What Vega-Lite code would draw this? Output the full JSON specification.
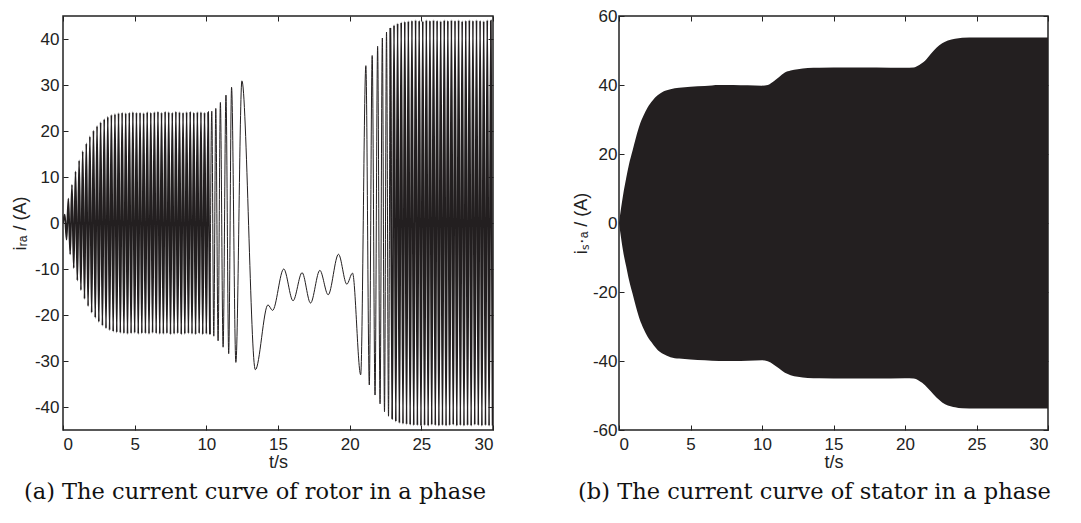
{
  "$schema": "https://vega.github.io/schema/vega-lite/v6.json",
  "background": "white",
  "padding": {"left": 10, "top": 6, "right": 0, "bottom": 0},
  "spacing": 76,
  "config": {
    "view": {"stroke": "#222", "strokeWidth": 1.5},
    "axis": {"labelFont": "Liberation Sans", "labelFontSize": 17, "labelColor": "#222", "titleFont": "Liberation Sans", "titleFontSize": 18, "titleFontWeight": "normal", "titleColor": "#222", "grid": false, "domain": false, "tickColor": "#222", "tickSize": -5, "tickWidth": 1, "labelPadding": 9},
    "title": {"font": "DejaVu Serif", "fontSize": 22.5, "fontWeight": "normal", "color": "#111"}
  },
  "datasets": {
    "rotor": [
      {"t":0,"i":0},{"t":0.125,"i":1.8},{"t":0.25,"i":-3.6},{"t":0.375,"i":5.3},{"t":0.5,"i":-6.8},{"t":0.625,"i":8.3},{"t":0.75,"i":-9.8},{"t":0.875,"i":11.2},{"t":1.0,"i":-12.5},{"t":1.125,"i":13.6},{"t":1.25,"i":-14.6},{"t":1.375,"i":15.6},{"t":1.5,"i":-16.5},{"t":1.625,"i":17.3},{"t":1.75,"i":-18.1},{"t":1.875,"i":18.8},{"t":2.0,"i":-19.5},{"t":2.125,"i":20.1},{"t":2.25,"i":-20.6},{"t":2.375,"i":21.1},{"t":2.5,"i":-21.5},{"t":2.625,"i":21.9},{"t":2.75,"i":-22.3},{"t":2.875,"i":22.6},{"t":3.0,"i":-22.9},{"t":3.125,"i":23.1},{"t":3.25,"i":-23.3},{"t":3.375,"i":23.5},{"t":3.5,"i":-23.6},{"t":3.625,"i":23.7},{"t":3.75,"i":-23.8},{"t":3.875,"i":23.9},{"t":4.0,"i":-23.9},{"t":4.125,"i":24.0},{"t":4.25,"i":-24.0},{"t":4.375,"i":23.9},{"t":4.5,"i":-24.1},{"t":4.625,"i":24.0},{"t":4.75,"i":-24.0},{"t":4.875,"i":24.1},{"t":5.0,"i":-23.9},{"t":5.125,"i":24.0},{"t":5.25,"i":-24.1},{"t":5.375,"i":24.0},{"t":5.5,"i":-24.0},{"t":5.625,"i":23.9},{"t":5.75,"i":-24.0},{"t":5.875,"i":24.1},{"t":6.0,"i":-24.1},{"t":6.125,"i":24.0},{"t":6.25,"i":-23.9},{"t":6.375,"i":24.1},{"t":6.5,"i":-24.0},{"t":6.625,"i":24.2},{"t":6.75,"i":-24.1},{"t":6.875,"i":24.0},{"t":7.0,"i":-24.1},{"t":7.125,"i":24.2},{"t":7.25,"i":-24.0},{"t":7.375,"i":24.1},{"t":7.5,"i":-24.2},{"t":7.625,"i":24.0},{"t":7.75,"i":-24.1},{"t":7.875,"i":24.2},{"t":8.0,"i":-24.0},{"t":8.125,"i":24.1},{"t":8.25,"i":-24.2},{"t":8.375,"i":24.0},{"t":8.5,"i":-24.1},{"t":8.625,"i":24.1},{"t":8.75,"i":-24.0},{"t":8.875,"i":24.2},{"t":9.0,"i":-24.1},{"t":9.125,"i":24.0},{"t":9.25,"i":-24.2},{"t":9.375,"i":24.1},{"t":9.5,"i":-24.0},{"t":9.625,"i":24.1},{"t":9.75,"i":-24.2},{"t":9.875,"i":24.0},{"t":10.0,"i":-24.1},{"t":10.125,"i":24.1},{"t":10.25,"i":-24.2},
      {"t":10.38,"i":24.3},{"t":10.52,"i":-24.6},{"t":10.66,"i":24.9},{"t":10.82,"i":-25.6},{"t":10.98,"i":26.2},{"t":11.17,"i":-27.0},{"t":11.37,"i":27.8},{"t":11.56,"i":-28.4},{"t":11.76,"i":29.5},{"t":12.06,"i":-30.3},{"t":12.48,"i":30.9},{"t":13.42,"i":-31.9},
      {"t":14.3,"i":-17.8},{"t":14.62,"i":-19.0},{"t":15.4,"i":-10.0},{"t":16.05,"i":-16.9},{"t":16.68,"i":-10.8},{"t":17.27,"i":-17.4},{"t":17.92,"i":-10.3},{"t":18.5,"i":-15.6},{"t":19.22,"i":-6.8},{"t":19.8,"i":-13.3},{"t":20.2,"i":-10.9},{"t":20.77,"i":-33.0},
      {"t":21.13,"i":34.2},{"t":21.37,"i":-35.2},{"t":21.57,"i":36.4},{"t":21.77,"i":-37.4},{"t":21.95,"i":38.4},{"t":22.12,"i":-39.3},{"t":22.28,"i":40.2},{"t":22.43,"i":-41.0},{"t":22.57,"i":41.5},{"t":22.71,"i":-42.0},{"t":22.84,"i":42.4},{"t":22.97,"i":-42.7},
      {"t":23.095,"i":43.0},{"t":23.22,"i":-43.2},{"t":23.345,"i":43.4},{"t":23.47,"i":-43.5},{"t":23.595,"i":43.6},{"t":23.72,"i":-43.7},{"t":23.845,"i":43.8},{"t":23.97,"i":-43.8},{"t":24.095,"i":43.9},{"t":24.22,"i":-43.9},{"t":24.345,"i":44.0},{"t":24.47,"i":-44.0},
      {"t":24.6,"i":44.1},{"t":24.725,"i":-44.0},{"t":24.85,"i":44.0},{"t":24.975,"i":-44.1},{"t":25.1,"i":43.9},{"t":25.225,"i":-44.0},{"t":25.35,"i":44.1},{"t":25.475,"i":-44.1},{"t":25.6,"i":44.0},{"t":25.725,"i":-43.9},{"t":25.85,"i":44.1},{"t":25.975,"i":-44.0},{"t":26.1,"i":44.0},{"t":26.225,"i":-44.1},{"t":26.35,"i":43.9},{"t":26.475,"i":-44.0},{"t":26.6,"i":44.1},{"t":26.725,"i":-44.1},{"t":26.85,"i":44.0},{"t":26.975,"i":-44.0},{"t":27.1,"i":44.1},{"t":27.225,"i":-43.9},{"t":27.35,"i":44.0},{"t":27.475,"i":-44.1},{"t":27.6,"i":44.1},{"t":27.725,"i":-44.0},{"t":27.85,"i":43.9},{"t":27.975,"i":-44.1},{"t":28.1,"i":44.0},{"t":28.225,"i":-44.0},{"t":28.35,"i":44.1},{"t":28.475,"i":-44.1},{"t":28.6,"i":44.0},{"t":28.725,"i":-43.9},{"t":28.85,"i":44.1},{"t":28.975,"i":-44.0},{"t":29.1,"i":44.0},{"t":29.225,"i":-44.1},{"t":29.35,"i":43.9},{"t":29.475,"i":-44.0},{"t":29.6,"i":44.1},{"t":29.725,"i":-44.1},{"t":29.85,"i":44.0},{"t":29.975,"i":-44.0}
    ],
    "stator": [
      {"t":0,"hi":0,"lo":0},{"t":0.15,"hi":4.5,"lo":-4.5},{"t":0.3,"hi":8.5,"lo":-8.5},{"t":0.5,"hi":13,"lo":-12.5},{"t":0.7,"hi":17,"lo":-16.5},{"t":0.95,"hi":21,"lo":-20.5},{"t":1.2,"hi":25,"lo":-24.5},{"t":1.45,"hi":28.5,"lo":-28},{"t":1.7,"hi":31,"lo":-30.5},{"t":2.0,"hi":33.5,"lo":-33},{"t":2.35,"hi":35.5,"lo":-35},{"t":2.7,"hi":37,"lo":-36.8},{"t":3.1,"hi":38.1,"lo":-38},{"t":3.6,"hi":38.8,"lo":-38.9},{"t":4.2,"hi":39.2,"lo":-39.3},{"t":5.0,"hi":39.5,"lo":-39.6},{"t":6.0,"hi":39.7,"lo":-39.8},{"t":7.0,"hi":40.0,"lo":-40.0},{"t":8.0,"hi":40.0,"lo":-40.0},{"t":9.0,"hi":39.9,"lo":-39.9},{"t":10.0,"hi":39.8,"lo":-39.8},{"t":10.4,"hi":40.0,"lo":-40.1},{"t":10.8,"hi":41.0,"lo":-41.0},{"t":11.2,"hi":42.3,"lo":-42.2},{"t":11.6,"hi":43.6,"lo":-43.4},{"t":12.0,"hi":44.2,"lo":-44.1},{"t":12.5,"hi":44.6,"lo":-44.6},{"t":13.2,"hi":44.9,"lo":-44.9},{"t":14.0,"hi":45.0,"lo":-45.0},{"t":16.0,"hi":45.1,"lo":-45.1},{"t":18.0,"hi":45.1,"lo":-45.1},{"t":20.0,"hi":45.0,"lo":-45.0},{"t":20.6,"hi":45.1,"lo":-45.1},{"t":21.0,"hi":45.8,"lo":-45.8},{"t":21.4,"hi":47.0,"lo":-47.0},{"t":21.8,"hi":49.0,"lo":-48.8},{"t":22.2,"hi":50.8,"lo":-50.6},{"t":22.6,"hi":52.1,"lo":-52.0},{"t":23.0,"hi":52.9,"lo":-52.9},{"t":23.5,"hi":53.4,"lo":-53.4},{"t":24.0,"hi":53.7,"lo":-53.7},{"t":25.0,"hi":53.8,"lo":-53.8},{"t":27.0,"hi":53.8,"lo":-53.8},{"t":30.0,"hi":53.8,"lo":-53.8}
    ]
  },
  "hconcat": [
    {
      "width": 430,
      "height": 414,
      "title": {"text": "(a) The current curve of rotor in a phase", "orient": "bottom", "anchor": "middle", "frame": "group", "dx": -23, "offset": 10},
      "data": {"name": "rotor"},
      "resolve": {"axis": {"x": "independent", "y": "independent"}},
      "layer": [
        {
          "transform": [{"filter": "datum.t <= 10.3"}],
          "mark": {"type": "line", "color": "#231f20", "strokeWidth": 1.8, "interpolate": "monotone", "clip": true},
          "encoding": {
            "x": {"field": "t", "type": "quantitative", "scale": {"domain": [0, 30], "nice": false}, "axis": {"values": [0,5,10,15,20,25,30], "title": "t/s", "titlePadding": 1, "labelPadding": 11}},
            "y": {"field": "i", "type": "quantitative", "scale": {"domain": [-45, 45], "nice": false}, "axis": {"values": [-40,-30,-20,-10,0,10,20,30,40], "title": "iᵣₐ / (A)", "titlePadding": 5, "labelExpr": "replace(datum.label, '−', '-')"}}
          }
        },
        {
          "transform": [{"filter": "datum.t >= 10.25 && datum.t <= 22.97"}],
          "mark": {"type": "line", "color": "#231f20", "strokeWidth": 1, "interpolate": "monotone", "clip": true},
          "encoding": {
            "x": {"field": "t", "type": "quantitative", "axis": null},
            "y": {"field": "i", "type": "quantitative", "axis": null}
          }
        },
        {
          "transform": [{"filter": "datum.t >= 22.84"}],
          "mark": {"type": "line", "color": "#231f20", "strokeWidth": 1.8, "interpolate": "monotone", "clip": true},
          "encoding": {
            "x": {"field": "t", "type": "quantitative", "axis": null},
            "y": {"field": "i", "type": "quantitative", "axis": null}
          }
        },
        {
          "mark": {"type": "line", "opacity": 0},
          "encoding": {
            "x": {"field": "t", "type": "quantitative", "axis": {"orient": "top", "values": [0,5,10,15,20,25,30], "labels": false, "title": null}},
            "y": {"field": "i", "type": "quantitative", "axis": {"orient": "right", "values": [-40,-30,-20,-10,0,10,20,30,40], "labels": false, "title": null}}
          }
        }
      ]
    },
    {
      "width": 429,
      "height": 414,
      "title": {"text": "(b) The current curve of stator in a phase", "orient": "bottom", "anchor": "middle", "frame": "group", "dx": -19, "offset": 10},
      "data": {"name": "stator"},
      "resolve": {"axis": {"x": "independent", "y": "independent"}},
      "layer": [
        {
          "mark": {"type": "area", "color": "#231f20", "interpolate": "monotone", "clip": true},
          "encoding": {
            "x": {"field": "t", "type": "quantitative", "scale": {"domain": [0, 30], "nice": false}, "axis": {"values": [0,5,10,15,20,25,30], "title": "t/s", "titlePadding": 1, "labelPadding": 11}},
            "y": {"field": "hi", "type": "quantitative", "scale": {"domain": [-60, 60], "nice": false}, "axis": {"values": [-60,-40,-20,0,20,40,60], "title": "iₛ·ₐ / (A)", "titlePadding": 2, "labelPadding": 7, "labelExpr": "replace(datum.label, '−', '-')"}},
            "y2": {"field": "lo"}
          }
        },
        {
          "mark": {"type": "line", "opacity": 0},
          "encoding": {
            "x": {"field": "t", "type": "quantitative", "axis": {"orient": "top", "values": [0,5,10,15,20,25,30], "labels": false, "title": null}},
            "y": {"field": "hi", "type": "quantitative", "axis": {"orient": "right", "values": [-60,-40,-20,0,20,40,60], "labels": false, "title": null}}
          }
        }
      ]
    }
  ]
}
